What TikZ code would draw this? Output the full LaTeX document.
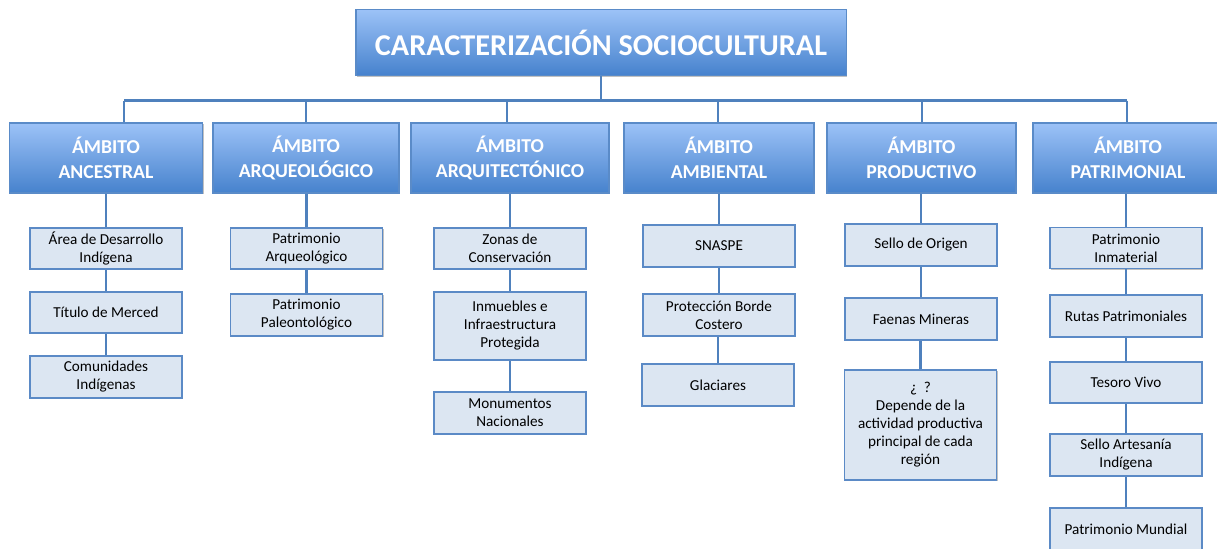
\documentclass[tikz,border=0pt]{standalone}
\usepackage{fontspec}
\setmainfont{Carlito}
\usetikzlibrary{shadows}

\definecolor{hdrtop}{HTML}{9CC2F7}
\definecolor{hdrbot}{HTML}{4682CD}
\definecolor{hdrline}{HTML}{5A8BC8}
\definecolor{leaffill}{HTML}{DCE6F2}
\definecolor{leafline}{HTML}{5B8AC6}
\definecolor{linkblue}{HTML}{4F81BD}

\tikzset{
  shade/.style={drop shadow={shadow xshift=0.9pt,shadow yshift=-0.9pt,opacity=0.35,fill=black!70}},
  titlebox/.style={draw=hdrline,line width=0.8pt,top color=hdrtop,bottom color=hdrbot,shade,
    text=white,font=\bfseries\fontsize{21.5}{24}\selectfont,minimum width=12.25cm,minimum height=1.65cm},
  header/.style={draw=hdrline,line width=0.8pt,top color=hdrtop,bottom color=hdrbot,shade,
    text=white,font=\bfseries\fontsize{14}{17.8}\selectfont,align=center,minimum height=1.75cm},
  leaf/.style={draw=leafline,line width=0.9pt,fill=leaffill,shade,
    font=\fontsize{10.8}{12.8}\selectfont,align=center,minimum width=3.8cm,inner sep=1pt},
  link/.style={draw=linkblue,line width=2.1pt}
}

\begin{document}
\begin{tikzpicture}[x=0.025cm,y=-0.025cm]
\useasboundingbox (0,0) rectangle (1217,548);

\node[titlebox] (title) at (601,42.5) {CARACTERIZACIÓN SOCIOCULTURAL};

% the six ambitos
\foreach \n/\x/\w/\t in {anc/106/193/ANCESTRAL, arq/306/186/ARQUEOLÓGICO, arqt/510/198/ARQUITECTÓNICO,
    amb/719/190/AMBIENTAL, prod/921.5/189/PRODUCTIVO, pat/1128/190/PATRIMONIAL}
  \node[header,minimum width=\w*0.025cm] (\n) at (\x,158) {ÁMBITO\\\t};

% bar from the title
\foreach \n/\x in {anc/124, arq/306, arqt/507, amb/718, prod/922, pat/1127}
  \coordinate (bar-\n) at (\x,100.5);
\draw[link] (title.south) -- (title.south |- bar-anc);
\draw[link] (bar-anc) -- (bar-pat);
\foreach \n in {anc, arq, arqt, amb, prod, pat}
  \draw[link] (bar-\n) -- (bar-\n |- \n.north);

% leaves
\foreach \n/\x/\y/\h/\t in {
    a1/106/248.5/41/{Área de Desarrollo\\Indígena}, a2/106/312.5/41/{Título de Merced}, a3/106/377/42/{Comunidades\\Indígenas},
    b1/306.5/248.5/41/{Patrimonio\\Arqueológico}, b2/306.5/315/42/{Patrimonio\\Paleontológico},
    c1/510/248.5/41/{Zonas de\\Conservación}, c2/510/326/68/{Inmuebles e\\Infraestructura\\Protegida}, c3/510/413/42/{Monumentos\\Nacionales},
    d1/719/246/42/{SNASPE}, d2/719/315/42/{Protección Borde\\Costero}, d3/718/385/42/{Glaciares},
    e1/921/245/42/{Sello de Origen}, e2/921/319/42/{Faenas Mineras},
    e3/920.5/425/110/{¿~~?\\Depende de la\\actividad productiva\\principal de cada\\región},
    f1/1126/248/41/{Patrimonio\\Inmaterial}, f2/1126/316/42/{Rutas Patrimoniales}, f3/1126/382.5/41/{Tesoro Vivo},
    f4/1126/455/42/{Sello Artesanía\\Indígena}, f5/1126/529/42/{Patrimonio Mundial}}
  \node[leaf,minimum height=\h*0.025cm] (\n) at (\x,\y) {\t};

\foreach \p/\c in {anc/a1, a1/a2, a2/a3, arq/b1, b1/b2, arqt/c1, c1/c2, c2/c3,
    amb/d1, d1/d2, d2/d3, prod/e1, e1/e2, e2/e3, pat/f1, f1/f2, f2/f3, f3/f4, f4/f5}
  \draw[link] (\c.north) -- (\c.north |- \p.south);
\end{tikzpicture}
\end{document}
